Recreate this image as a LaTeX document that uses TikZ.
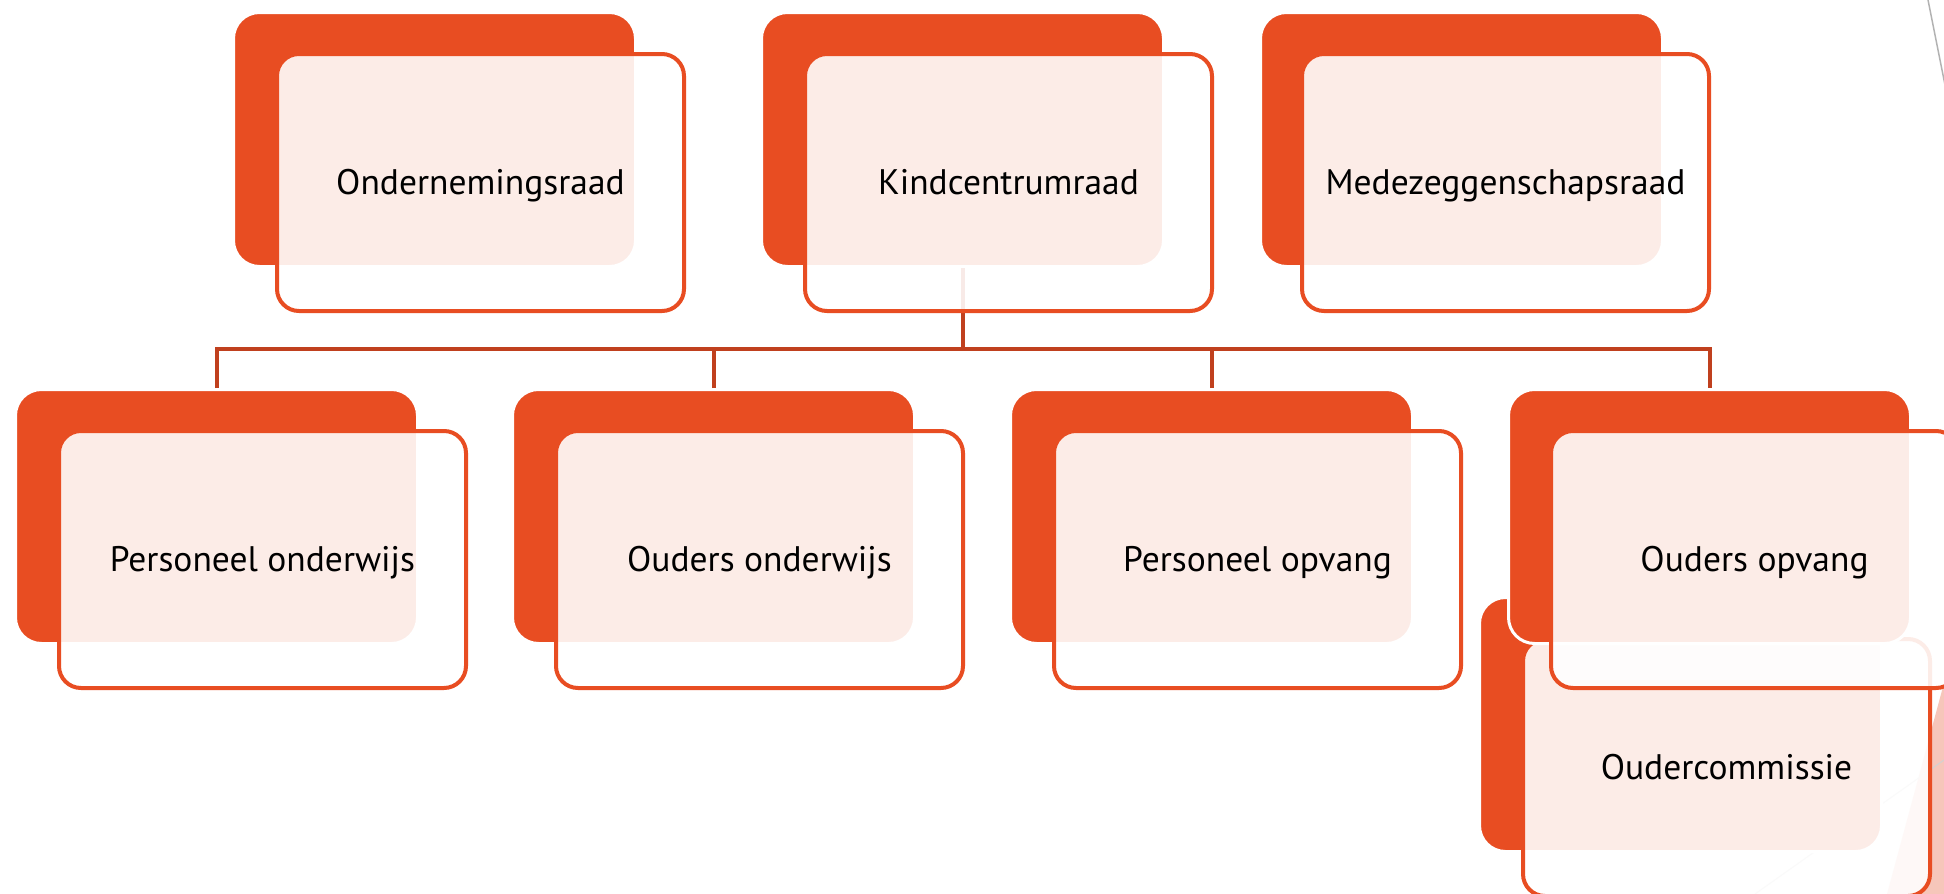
\documentclass[tikz,border=0pt]{standalone}
\usepackage{fontspec}
\setmainfont{PT Sans}
\definecolor{org}{RGB}{232,77,34}
\definecolor{conn}{RGB}{192,64,30}
\definecolor{salmon}{RGB}{246,198,186}
\begin{document}
\begin{tikzpicture}[x=1pt,y=-1pt,
  backbox/.style={draw=white, line width=3pt, fill=org, rounded corners=26pt,
    minimum width=402pt, minimum height=254pt, inner sep=0pt, anchor=north west},
  frontbox/.style={draw=org, line width=4pt, fill=white, fill opacity=0.895, text opacity=1,
    rounded corners=22pt, minimum width=407pt, minimum height=257pt, inner sep=0pt,
    anchor=north west, font=\fontsize{35.5}{40}\selectfont, text height=24.5pt, text depth=0pt},
  link/.style={draw=conn, line width=4pt}]
\path[use as bounding box, clip] (0,0) rectangle (1944,894);
\fill[white] (0,0) rectangle (1944,894);
% slide decorations
\fill[salmon] (1944,683) -- (1887,894) -- (1944,894) -- cycle;
\draw[gray!35, line width=1pt] (1944,760) -- (1755,894);
\draw[gray!60, line width=1.5pt] (1928,0) -- (1950,110);
\coordinate (bus) at (0,349);
% top row backs
\node[backbox] (b1) at (232,11) {};
\node[backbox] (b2) at (760,11) {};
\node[backbox] (b3) at (1259,11) {};
% Oudercommissie
\node[backbox] (b8) at (1478,596) {};
\node[frontbox] (f8) at (1521,637) {Oudercommissie};
% bottom row backs
\node[backbox] (b4) at (14,388) {};
\node[backbox] (b5) at (511,388) {};
\node[backbox] (b6) at (1009,388) {};
\node[backbox] (b7) at (1507,388) {};
% connectors
\draw[link] (b2.south) -- (b2.south |- bus);
\draw[link] (b4.north) -- (b4.north |- bus) -- (b7.north |- bus) -- (b7.north);
\draw[link] (b5.north) -- (b5.north |- bus);
\draw[link] (b6.north) -- (b6.north |- bus);
% fronts
\node[frontbox] (f1) at (275,52) {Ondernemingsraad};
\node[frontbox] (f2) at (803,52) {Kindcentrumraad};
\node[frontbox] (f3) at (1300,52) {Medezeggenschapsraad};
\node[frontbox] (f4) at (57,429) {Personeel onderwijs};
\node[frontbox] (f5) at (554,429) {Ouders onderwijs};
\node[frontbox] (f6) at (1052,429) {Personeel opvang};
\node[frontbox] (f7) at (1549,429) {Ouders opvang};
\end{tikzpicture}
\end{document}
